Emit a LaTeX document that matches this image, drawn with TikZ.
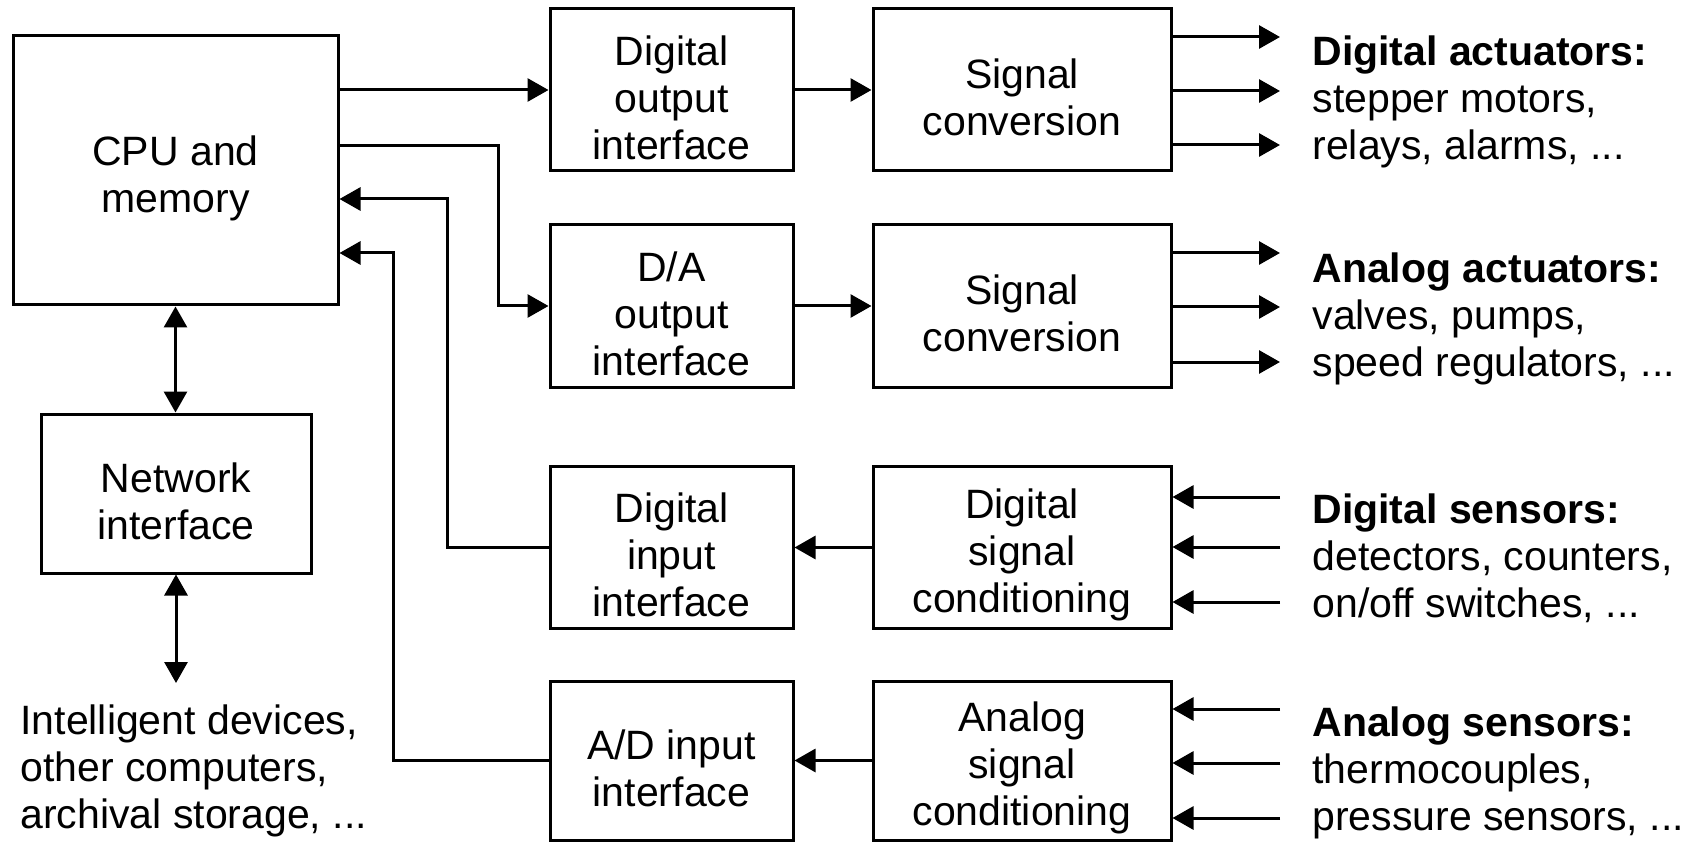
\documentclass[tikz,border=0pt]{standalone}
\usepackage{fontspec}
\setmainfont{Liberation Sans}
\usetikzlibrary{arrows.meta}
\newcommand{\tf}{\rule{0pt}{45pt}}
\begin{document}
\begin{tikzpicture}[x=1pt,y=-1pt,
  line width=3pt,
  font=\fontsize{41}{47}\selectfont,
  box/.style={draw, line width=3pt, inner sep=0pt, align=center, anchor=center},
  cbox/.style={box, minimum width=243pt, minimum height=162pt},
  sbox/.style={box, minimum width=298pt, minimum height=162pt},
  tipA/.tip={Triangle[length=21pt,width=23pt]},
  arr/.style={-tipA},
  darr/.style={tipA-tipA},
  lbl/.style={inner sep=0pt, align=left, anchor=west}]
\useasboundingbox (0,0) rectangle (1684,842);

% boxes
\node[box, minimum width=325pt, minimum height=269pt] (cpu) at (175.5,170.5) {\tf CPU and\\memory};
\node[box, minimum width=270pt, minimum height=159pt] (net) at (176,493.5) {\tf Network\\interface};

\node[cbox] (dout) at (671.5,90) {\tf Digital\\output\\interface};
\node[cbox] (da)   at (671.5,306) {\tf D/A\\output\\interface};
\node[cbox] (din)  at (671.5,547.5) {\tf Digital\\input\\interface};
\node[cbox, minimum height=159pt] (ad) at (671.5,760.5) {\tf A/D input\\interface};

\node[sbox] (sc1) at (1022,90) {\tf Signal\\conversion};
\node[sbox] (sc2) at (1022,306) {\tf Signal\\conversion};
\node[sbox] (dcond) at (1022,547.5) {\tf Digital\\signal\\conditioning};
\node[sbox, minimum height=159pt] (acond) at (1022,760.5) {\tf Analog\\signal\\conditioning};

% labels
\node[lbl] (la1) at (1311,102) {\textbf{Digital actuators:}\\stepper motors,\\relays, alarms, ...};
\node[lbl] (la2) at (1311,319) {\textbf{Analog actuators:}\\valves, pumps,\\speed regulators, ...};
\node[lbl] (la3) at (1311,558) {\textbf{Digital sensors:}\\detectors, counters,\\on/off switches, ...};
\node[lbl] (la4) at (1311,773) {\textbf{Analog sensors:}\\thermocouples,\\pressure sensors, ...};
\node[lbl] (dev) at (19,771) {Intelligent devices,\\other computers,\\archival storage, ...};

% CPU connections
\draw[arr] (cpu.east |- dout.west) -- (dout.west);
\coordinate (j1) at (498,146);
\draw[arr] (cpu.east |- j1) -- (j1) |- (da.west);
\coordinate (j2) at (447,199);
\draw[arr] (din.west) -| (j2) -- (cpu.east |- j2);
\coordinate (j3) at (393,253);
\draw[arr] (ad.west) -| (j3) -- (cpu.east |- j3);

\draw[arr] (dout) -- (sc1);
\draw[arr] (da) -- (sc2);
\draw[arr] (dcond) -- (din);
\draw[arr] (acond) -- (ad);

% network
\draw[darr] (cpu.south) -- (cpu.south |- net.north);
\coordinate (netend) at (176,683);
\draw[darr] (net.south) -- (netend);

% actuator outputs
\foreach \y [count=\i] in {37,91,145} {
  \coordinate (oa\i) at (1280,\y);
  \draw[arr] (sc1.east |- oa\i) -- (oa\i);
}
\foreach \y [count=\i] in {253,307,362} {
  \coordinate (ob\i) at (1280,\y);
  \draw[arr] (sc2.east |- ob\i) -- (ob\i);
}
% sensor inputs
\foreach \y [count=\i] in {497,547,602} {
  \coordinate (ic\i) at (1280,\y);
  \draw[arr] (ic\i) -- (dcond.east |- ic\i);
}
\foreach \y [count=\i] in {709,763,818} {
  \coordinate (id\i) at (1280,\y);
  \draw[arr] (id\i) -- (acond.east |- id\i);
}
\end{tikzpicture}
\end{document}
